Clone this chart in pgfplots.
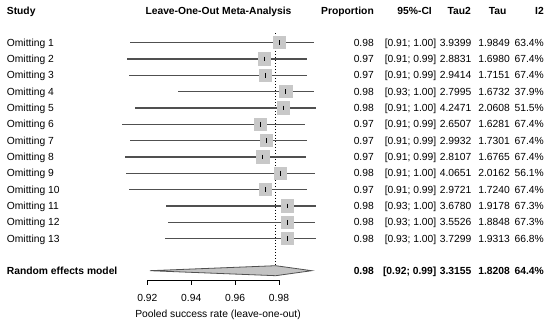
\documentclass[border=0pt]{standalone}
\usepackage{pgfplots}
\pgfplotsset{compat=1.18}
\usepackage{pgfplotstable}
\usepackage{fontspec}
\setmainfont{Liberation Sans}
\definecolor{ciline}{RGB}{80,80,80}
\definecolor{sqfill}{RGB}{200,200,200}
\definecolor{diafill}{RGB}{195,195,195}
\pgfplotstableread{
est    lo     hi     y
0.9803 0.9121 0.9959 -42.7
0.9733 0.9109 0.9926 -59.0
0.9738 0.9117 0.9929 -75.3
0.9831 0.9341 0.9959 -91.7
0.9821 0.9144 0.9969 -108.0
0.9715 0.9083 0.9918 -124.3
0.9742 0.9121 0.9929 -140.7
0.9727 0.9098 0.9923 -157.0
0.9806 0.9102 0.9963 -173.3
0.9739 0.9118 0.9929 -189.7
0.9840 0.9287 0.9967 -206.0
0.9840 0.9296 0.9965 -222.3
0.9840 0.9281 0.9967 -238.7
}\loo
\newcommand\trow[8]{%
  \pgfmathsetmacro\yb{326-#2-3.7}%
  \node[anchor=base west,inner sep=0] at (6.7bp,\yb bp) {#1#3};
  \node[anchor=base east,inner sep=0] at (374bp,\yb bp) {#1#4};
  \node[anchor=base east,inner sep=0] at (436.5bp,\yb bp) {#1#5};
  \node[anchor=base east,inner sep=0] at (471.5bp,\yb bp) {#1#6};
  \node[anchor=base east,inner sep=0] at (510bp,\yb bp) {#1#7};
  \node[anchor=base east,inner sep=0] at (544bp,\yb bp) {#1#8};
}
\begin{document}
\begin{tikzpicture}[font=\fontsize{10.3bp}{12bp}\selectfont]
\begin{axis}[scale only axis, width=550bp, height=326bp,
  xmin=0.85289, xmax=1.10346, ymin=-326, ymax=0,
  hide axis, clip=false]
% dotted reference line
\addplot[black, line width=1bp, dash pattern=on 1bp off 2bp] coordinates {(0.9785,-33) (0.9785,-266)};
% CI lines
\addplot[only marks, mark=none, error bars/.cd, x dir=both, x explicit, error mark=none,
  error bar style={draw=ciline, line width=1.2bp}]
  table[x=est, y=y, x error plus expr=\thisrow{hi}-\thisrow{est}, x error minus expr=\thisrow{est}-\thisrow{lo}] {\loo};
% squares
\addplot[only marks, mark=square*, mark size=6.2bp, draw=sqfill, fill=sqfill, mark options={fill=sqfill, draw=sqfill, line width=0pt}] table[x=est, y=y] {\loo};
% point ticks
\addplot[only marks, mark=|, mark size=2.3bp, mark options={black, line width=1bp}] table[x=est, y=y] {\loo};
% diamond
\addplot[fill=diafill, draw=ciline, line width=0.8bp] coordinates {(0.9212,-270.7) (0.9785,-265.7) (0.9949,-270.7) (0.9785,-275.7)} -- cycle;
% x axis
\draw[black, line width=0.8bp] (axis cs:0.92,-285) -- (axis cs:0.92,-280.7) -- (axis cs:0.98,-280.7) -- (axis cs:0.98,-285);
\draw[black, line width=0.8bp] (axis cs:0.94,-280.7) -- (axis cs:0.94,-285);
\draw[black, line width=0.8bp] (axis cs:0.96,-280.7) -- (axis cs:0.96,-285);
\node[inner sep=0] at (axis cs:0.92,-298) {0.92};
\node[inner sep=0] at (axis cs:0.94,-298) {0.94};
\node[inner sep=0] at (axis cs:0.96,-298) {0.96};
\node[inner sep=0] at (axis cs:0.98,-298) {0.98};
\node[anchor=base,inner sep=0] at (axis cs:0.9522,-317) {Pooled success rate (leave-one-out)};
\end{axis}
% headers
\node[anchor=base west,inner sep=0] at (6.7bp,311.4bp) {\bfseries Study};
\node[anchor=base,inner sep=0] at (218.5bp,311.4bp) {\bfseries Leave-One-Out Meta-Analysis};
\node[anchor=base east,inner sep=0] at (374bp,311.4bp) {\bfseries Proportion};
\node[anchor=base east,inner sep=0] at (432bp,311.4bp) {\bfseries 95\%-CI};
\node[anchor=base east,inner sep=0] at (471bp,311.4bp) {\bfseries Tau2};
\node[anchor=base east,inner sep=0] at (506.7bp,311.4bp) {\bfseries Tau};
\node[anchor=base east,inner sep=0] at (544bp,311.4bp) {\bfseries I2};
\trow{}{42.7}{Omitting 1}{0.98}{[0.91; 1.00]}{3.9399}{1.9849}{63.4\%}
\trow{}{59.0}{Omitting 2}{0.97}{[0.91; 0.99]}{2.8831}{1.6980}{67.4\%}
\trow{}{75.3}{Omitting 3}{0.97}{[0.91; 0.99]}{2.9414}{1.7151}{67.4\%}
\trow{}{91.7}{Omitting 4}{0.98}{[0.93; 1.00]}{2.7995}{1.6732}{37.9\%}
\trow{}{108.0}{Omitting 5}{0.98}{[0.91; 1.00]}{4.2471}{2.0608}{51.5\%}
\trow{}{124.3}{Omitting 6}{0.97}{[0.91; 0.99]}{2.6507}{1.6281}{67.4\%}
\trow{}{140.7}{Omitting 7}{0.97}{[0.91; 0.99]}{2.9932}{1.7301}{67.4\%}
\trow{}{157.0}{Omitting 8}{0.97}{[0.91; 0.99]}{2.8107}{1.6765}{67.4\%}
\trow{}{173.3}{Omitting 9}{0.98}{[0.91; 1.00]}{4.0651}{2.0162}{56.1\%}
\trow{}{189.7}{Omitting 10}{0.97}{[0.91; 0.99]}{2.9721}{1.7240}{67.4\%}
\trow{}{206.0}{Omitting 11}{0.98}{[0.93; 1.00]}{3.6780}{1.9178}{67.3\%}
\trow{}{222.3}{Omitting 12}{0.98}{[0.93; 1.00]}{3.5526}{1.8848}{67.3\%}
\trow{}{238.7}{Omitting 13}{0.98}{[0.93; 1.00]}{3.7299}{1.9313}{66.8\%}
\trow{\bfseries}{270.7}{Random effects model}{0.98}{[0.92; 0.99]}{3.3155}{1.8208}{64.4\%}
\pgfresetboundingbox
\path[use as bounding box] (0,0) rectangle (550bp,326bp);
\end{tikzpicture}
\end{document}
